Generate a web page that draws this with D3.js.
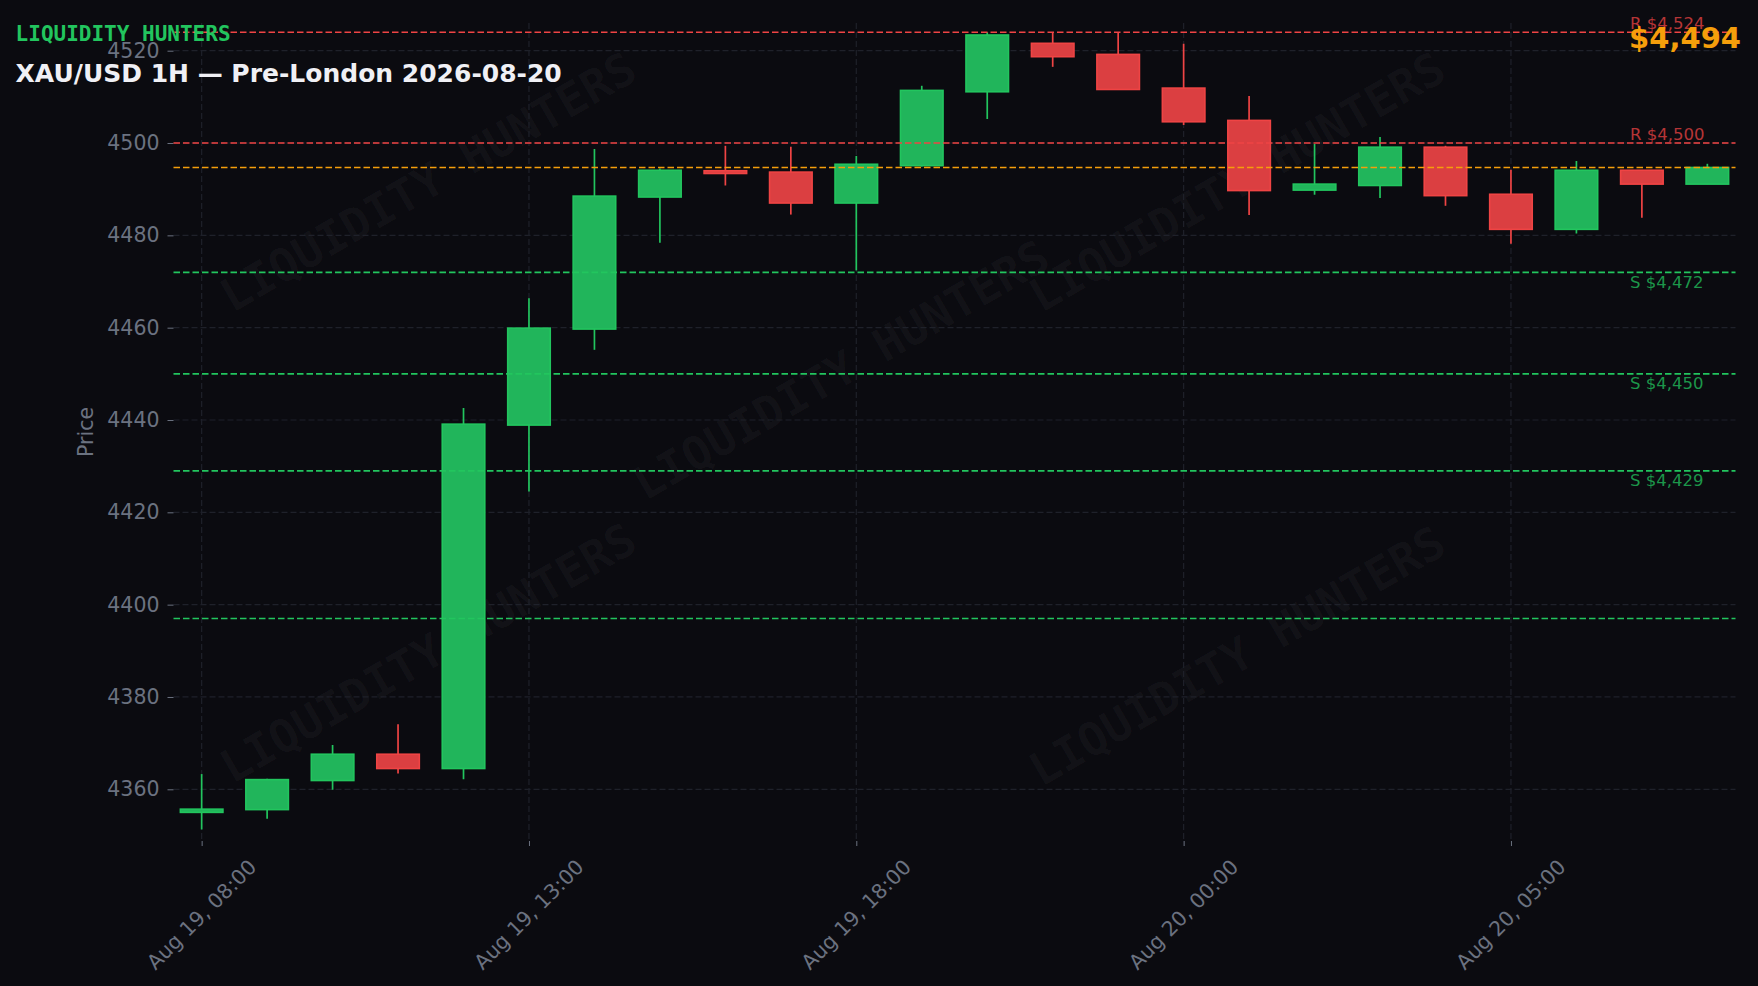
<!DOCTYPE html>
<html><head><meta charset="utf-8">
<script src="https://cdn.jsdelivr.net/npm/d3@7"></script>
<style>html,body{margin:0;padding:0;background:#0b0b10;overflow:hidden}</style>
</head><body>
<svg id="c" width="1758" height="986"></svg>
<script>
// ---------- DATA ----------
const times = ["2026-08-19T08:00","2026-08-19T09:00","2026-08-19T10:00","2026-08-19T11:00","2026-08-19T12:00","2026-08-19T13:00",
  "2026-08-19T14:00","2026-08-19T15:00","2026-08-19T16:00","2026-08-19T17:00","2026-08-19T18:00","2026-08-19T19:00",
  "2026-08-19T20:00","2026-08-19T22:00","2026-08-19T23:00","2026-08-20T00:00","2026-08-20T01:00","2026-08-20T02:00",
  "2026-08-20T03:00","2026-08-20T04:00","2026-08-20T05:00","2026-08-20T06:00","2026-08-20T07:00","2026-08-20T08:00"];
const open  = [4355.0,4355.6,4361.9,4367.6,4364.5,4438.9,4459.7,4488.3,4494.0,4493.7,4487.0,4495.1,4511.1,4521.6,4519.2,4511.9,4504.9,4489.8,4490.8,4499.1,4488.9,4481.3,4494.1,4491.1];
const high  = [4363.3,4362.3,4369.6,4374.1,4442.6,4466.4,4498.7,4494.5,4499.4,4499.2,4497.2,4512.4,4524.0,4524.0,4524.0,4521.5,4510.2,4499.8,4501.3,4499.4,4494.2,4496.1,4494.1,4495.5];
const low   = [4351.3,4353.6,4359.9,4363.4,4362.2,4424.5,4455.2,4478.4,4490.8,4484.5,4472.4,4494.9,4505.2,4516.5,4511.6,4503.9,4484.4,4488.8,4488.1,4486.4,4478.2,4480.4,4483.8,4491.1];
const close = [4355.7,4362.1,4367.6,4364.5,4439.1,4459.9,4488.5,4494.1,4493.4,4487.0,4495.4,4511.4,4523.4,4518.7,4511.6,4504.6,4489.7,4491.1,4499.1,4488.6,4481.3,4494.1,4491.1,4494.7];
const resistance = [4524, 4500];
const support = [4472, 4450, 4429];
const extraSupport = [4397];
const currentPrice = 4494.7;
const yTicks = [4360,4380,4400,4420,4440,4460,4480,4500,4520];
const xTickIndex = [0,5,10,15,20];
const titleText = "XAU/USD 1H — Pre-London 2026-08-20";
const brandText = "LIQUIDITY HUNTERS";
const yLabel = "Price";

// ---------- LAYOUT ----------
const W = 1758, H = 986;
const L = 173.5, R = 1735.5, T = 23, B = 841;
const parse = d3.utcParse("%Y-%m-%dT%H:%M");
const t = times.map(parse);
const n = times.length;
const x = d3.scaleLinear().domain([-0.43, n - 1 + 0.43]).range([L, R]);
const y = d3.scaleLinear().domain([4348.8, 4526]).range([B, T]);
const step = x(1) - x(0);
const bodyW = step * 0.65;

const GREEN = "#22c55e", GREEN_F = "#21b55b", RED = "#ef4444", RED_F = "#db3f41", ORANGE = "#f59e0b", GREY = "#6b7280";
const FS = 20.5;
const svg = d3.select("#c");
svg.append("rect").attr("width", W).attr("height", H).attr("fill", "#0b0b10");

// watermarks
const wm = [[428,182],[841,370],[1237,182],[428,653],[1237,656]];
svg.append("g").selectAll("text").data(wm).join("text")
  .attr("transform", d => `translate(${d[0]},${d[1]}) rotate(-30)`)
  .attr("text-anchor","middle").attr("dominant-baseline","central")
  .attr("font-family","DejaVu Sans Mono").attr("font-weight","bold").attr("font-size",46)
  .attr("fill","rgba(255,255,255,0.035)").text(brandText);

// grid
const grid = svg.append("g").attr("stroke","#1f212a").attr("stroke-width",1.2).attr("stroke-dasharray","6 3");
grid.selectAll(".gy").data(yTicks).join("line").attr("x1",L).attr("x2",R).attr("y1",d=>y(d)).attr("y2",d=>y(d));
grid.selectAll(".gx").data(xTickIndex).join("line").attr("x1",d=>x(d)).attr("x2",d=>x(d)).attr("y1",T).attr("y2",B);

// y axis
const yAxis = d3.axisLeft(y).tickValues(yTicks).tickSize(6).tickPadding(8).tickFormat(d3.format("d"));
const ya = svg.append("g").attr("transform",`translate(${L},0)`).call(yAxis);
ya.select(".domain").remove();
ya.selectAll("line").attr("stroke",GREY);
ya.selectAll("text").attr("fill",GREY).attr("font-family","DejaVu Sans").attr("font-size",FS);

// x axis
const xAxis = d3.axisBottom(x).tickValues(xTickIndex).tickSize(5).tickFormat(()=>"");
const xa = svg.append("g").attr("transform",`translate(0,${B})`).call(xAxis);
xa.select(".domain").remove();
xa.selectAll("line").attr("stroke",GREY);
const fmt = d3.utcFormat("%b %d, %H:%M");
xTickIndex.forEach(i => {
  const tx = x(i);
  const txt = svg.append("text").attr("font-family","DejaVu Sans").attr("font-size",FS).attr("fill",GREY)
    .attr("text-anchor","middle").attr("dominant-baseline","central").text(fmt(t[i]));
  const len = txt.node().getComputedTextLength();
  const hh = FS*1.16;
  const bh = 0.7071*(len+hh);
  const cy = B + 14 + bh/2;
  txt.attr("x",tx).attr("y",cy).attr("transform",`rotate(-45,${tx},${cy})`);
});

svg.append("text").attr("transform",`translate(85.5,${(T+B)/2}) rotate(-90)`).attr("text-anchor","middle")
  .attr("dominant-baseline","central").attr("font-family","DejaVu Sans").attr("font-size",FS).attr("fill",GREY).text(yLabel);

// candles
const idx = d3.range(n);
const cg = svg.append("g");
cg.selectAll(".wick").data(idx).join("line")
  .attr("x1",i=>x(i)).attr("x2",i=>x(i)).attr("y1",i=>y(high[i])).attr("y2",i=>y(low[i]))
  .attr("stroke",i=>close[i]>=open[i]?GREEN:RED).attr("stroke-width",1.7);
cg.selectAll(".body").data(idx).join("rect")
  .attr("x",i=>x(i)-bodyW/2).attr("width",bodyW)
  .attr("y",i=>y(Math.max(open[i],close[i])))
  .attr("height",i=>Math.max(1, Math.abs(y(open[i])-y(close[i]))))
  .attr("fill",i=>close[i]>=open[i]?GREEN_F:RED_F)
  .attr("stroke",i=>close[i]>=open[i]?GREEN:RED).attr("stroke-width",1.6);

// level lines
const lg = svg.append("g").attr("stroke-width",1.7).attr("stroke-dasharray","6.5 3");
lg.selectAll(".r").data(resistance).join("line").attr("x1",L).attr("x2",R).attr("y1",d=>y(d)).attr("y2",d=>y(d)).attr("stroke",RED);
lg.selectAll(".s").data(support.concat(extraSupport)).join("line").attr("x1",L).attr("x2",R).attr("y1",d=>y(d)).attr("y2",d=>y(d)).attr("stroke",GREEN);
lg.append("line").attr("x1",L).attr("x2",R).attr("y1",y(currentPrice)).attr("y2",y(currentPrice)).attr("stroke",ORANGE);

const money = d3.format(",.0f");
svg.append("g").selectAll("text").data(resistance).join("text")
  .attr("x",1630).attr("y",d=>y(d)-3).attr("font-family","DejaVu Sans").attr("font-size",16.5)
  .attr("fill",RED).attr("fill-opacity",0.75).text(d=>"R $"+money(d));
svg.append("g").selectAll("text").data(support).join("text")
  .attr("x",1630).attr("y",d=>y(d)+15.5).attr("font-family","DejaVu Sans").attr("font-size",16.5)
  .attr("fill",GREEN).attr("fill-opacity",0.75).text(d=>"S $"+money(d));

// header texts
svg.append("text").attr("x",15.6).attr("y",40.5).attr("font-family","DejaVu Sans Mono").attr("font-weight","bold")
  .attr("font-size",21).attr("fill",GREEN).text(brandText);
svg.append("text").attr("x",15.6).attr("y",81.7).attr("font-family","DejaVu Sans").attr("font-weight","bold")
  .attr("font-size",25).attr("fill","#f0f0f5").text(titleText);
svg.append("text").attr("x",1741).attr("y",48.3).attr("text-anchor","end").attr("font-family","DejaVu Sans").attr("font-weight","bold")
  .attr("font-size",29).attr("fill",ORANGE).text("$"+money(Math.floor(close[n-1])));
</script>
</body></html>
